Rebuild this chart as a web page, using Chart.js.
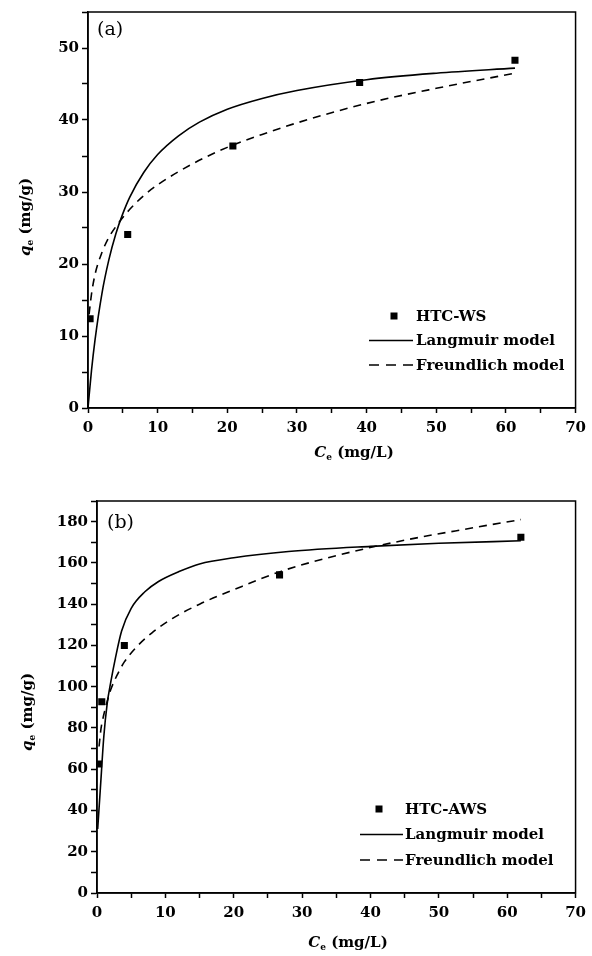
<!DOCTYPE html>
<html>
<head>
<meta charset="utf-8">
<script src="https://cdn.jsdelivr.net/npm/chart.js@4.4.1/dist/chart.umd.min.js"></script>
<style>
  body { margin: 0; background: #fff; }
  .panel { position: absolute; left: 0; width: 592px; height: 478px; }
</style>
</head>
<body>
<div class="panel" style="top:0"><canvas id="chartA" width="592" height="478"></canvas></div>
<div class="panel" style="top:478px"><canvas id="chartB" width="592" height="478"></canvas></div>
<script>
// (a) HTC-WS: measured points and the two fitted curves
const wsCe = [0.3, 5.7, 20.8, 39.0, 61.3];
const wsQe = [12.4, 24.1, 36.4, 45.2, 48.3];
const wsLangC = [0, 0.5, 1, 2, 3, 4, 5, 6, 8, 10, 13, 16, 20, 25, 30, 40, 50, 61.3];
const wsLangQ = [0, 5.2, 9.4, 15.9, 20.6, 24.2, 27.0, 29.3, 32.7, 35.2, 37.8, 39.7, 41.5, 43.0, 44.1, 45.6, 46.5, 47.2];
const wsFreuC = [0.15, 0.3, 0.5, 1, 2, 3, 4, 6, 8, 10, 15, 20, 25, 30, 40, 50, 61.3];
const wsFreuQ = [13.0, 14.2, 15.8, 18.5, 21.6, 23.7, 25.2, 27.6, 29.5, 31.0, 33.9, 36.2, 38.0, 39.6, 42.3, 44.4, 46.5];

// (b) HTC-AWS
const awsCe = [0.25, 0.7, 4.0, 26.7, 62.0];
const awsQe = [62.5, 92.7, 120.0, 154.2, 172.4];
const awsLangC = [0.1, 0.5, 1, 1.5, 2, 2.7, 3.6, 5, 7, 9, 12, 15, 20, 28, 40, 50, 62];
const awsLangQ = [31, 51, 76, 92, 102, 114, 127, 138, 146, 151, 155.8, 159.5, 162.5, 165.5, 168, 169.5, 170.7];
const awsFreuC = [0.3, 0.6, 1, 1.5, 2, 3, 4, 6, 8, 11, 15, 20, 27, 35, 45, 55, 62];
const awsFreuQ = [71, 80, 86.5, 93, 98.5, 106, 112, 120, 126, 133, 140, 147, 156, 163.5, 171, 177, 181];

const xTicks = [0, 10, 20, 30, 40, 50, 60, 70];
const legendNames = ['Langmuir model', 'Freundlich model'];

const FONT = "'DejaVu Serif', 'Liberation Serif', serif";

function pairs(xs, ys) {
  return xs.map((x, i) => ({ x: x, y: ys[i] }));
}

function fontFor(p, size) {
  return (p.italic ? 'italic ' : '') + 'bold ' + (p.sub ? Math.round(size * 0.62) : size) + 'px ' + FONT;
}

// draws mixed-style text centred on the current origin
function drawRich(ctx, parts, size) {
  let total = 0;
  parts.forEach(p => {
    ctx.font = fontFor(p, size);
    p.w = ctx.measureText(p.t).width;
    total += p.w;
  });
  let x = -total / 2;
  parts.forEach(p => {
    ctx.font = fontFor(p, size);
    ctx.fillText(p.t, x, p.sub ? size * 0.3 : 0);
    x += p.w;
  });
}

const xTitle = [{ t: 'C', italic: true }, { t: 'e', sub: true }, { t: ' (mg/L)' }];
const yTitle = [{ t: 'q', italic: true }, { t: 'e', sub: true }, { t: ' (mg/g)' }];

// frame, panel letter, axis titles and the legend inside the plot
const decorPlugin = {
  id: 'decor',
  afterDraw(chart, args, opts) {
    const ctx = chart.ctx;
    const a = chart.chartArea;
    ctx.save();
    ctx.strokeStyle = '#000';
    ctx.fillStyle = '#000';
    ctx.lineWidth = 1.5;
    ctx.strokeRect(a.left, a.top, a.right - a.left, a.bottom - a.top);

    ctx.textBaseline = 'middle';
    ctx.textAlign = 'left';
    ctx.font = '19px ' + FONT;
    ctx.fillText(opts.panel, opts.panelX, opts.panelY);

    ctx.save();
    ctx.translate(opts.xTitleX, opts.xTitleY);
    drawRich(ctx, xTitle, 15);
    ctx.restore();

    ctx.save();
    ctx.translate(opts.yTitleX, opts.yTitleY);
    ctx.rotate(-Math.PI / 2);
    drawRich(ctx, yTitle, 15);
    ctx.restore();

    chart.data.datasets.forEach((ds, i) => {
      const y = opts.legY + i * opts.legGap;
      if (!ds.showLine) {
        ctx.fillRect(opts.markX - 3.5, y - 3.5, 7, 7);
      } else {
        ctx.lineWidth = ds.borderWidth;
        ctx.setLineDash(ds.borderDash ? [10, 7] : []);
        ctx.beginPath();
        ctx.moveTo(opts.lineX0, y);
        ctx.lineTo(opts.lineX1, y);
        ctx.stroke();
        ctx.setLineDash([]);
      }
      ctx.font = 'bold 15px ' + FONT;
      ctx.fillText(ds.label, opts.textX, y + 1);
    });
    ctx.restore();
  }
};

function makeChart(id, sample, ptsC, ptsQ, langC, langQ, freuC, freuQ, yMax, yStep, yEvery, geom) {
  const tickFont = { family: FONT, weight: 'bold', size: 15 };
  return new Chart(document.getElementById(id), {
    type: 'scatter',
    data: {
      datasets: [{
        label: sample,
        data: pairs(ptsC, ptsQ),
        showLine: false,
        pointStyle: 'rect',
        pointRadius: 5,
        backgroundColor: '#000',
        borderWidth: 0
      }, {
        label: legendNames[0],
        data: pairs(langC, langQ),
        showLine: true,
        pointRadius: 0,
        borderColor: '#000',
        borderWidth: 1.6,
        cubicInterpolationMode: 'monotone',
        fill: false
      }, {
        label: legendNames[1],
        data: pairs(freuC, freuQ),
        showLine: true,
        pointRadius: 0,
        borderColor: '#000',
        borderWidth: 1.6,
        borderDash: [8, 6],
        cubicInterpolationMode: 'monotone',
        fill: false
      }]
    },
    options: {
      responsive: false,
      animation: false,
      layout: { padding: { top: geom.top, right: 16, left: 0, bottom: 0 } },
      scales: {
        x: {
          type: 'linear',
          min: xTicks[0],
          max: xTicks[xTicks.length - 1],
          ticks: {
            stepSize: 5,
            autoSkip: false,
            maxRotation: 0,
            color: '#000',
            font: tickFont,
            padding: 6,
            callback: v => xTicks.includes(v) ? v : ''
          },
          grid: { drawOnChartArea: false, tickLength: 5, tickColor: '#000', tickWidth: 1.5 },
          border: { color: '#000', width: 1.5 },
          afterFit: s => { s.height = geom.xh; }
        },
        y: {
          type: 'linear',
          min: 0,
          max: yMax,
          ticks: {
            stepSize: yStep,
            autoSkip: false,
            color: '#000',
            font: tickFont,
            padding: 3,
            callback: v => v % yEvery === 0 ? v : ''
          },
          grid: { drawOnChartArea: false, tickLength: 6, tickColor: '#000', tickWidth: 1.5 },
          border: { color: '#000', width: 1.5 },
          afterFit: s => { s.width = geom.yw; }
        }
      },
      plugins: {
        legend: { display: false },
        tooltip: { enabled: false },
        decor: geom.decor
      }
    },
    plugins: [decorPlugin]
  });
}

makeChart('chartA', 'HTC-WS', wsCe, wsQe, wsLangC, wsLangQ, wsFreuC, wsFreuQ, 55, 5, 10, {
  top: 10, xh: 70, yw: 88,
  decor: {
    panel: '(a)', panelX: 97, panelY: 30,
    xTitleX: 354, xTitleY: 453,
    yTitleX: 26, yTitleY: 217,
    legY: 316, legGap: 24.5, markX: 394, lineX0: 369, lineX1: 413, textX: 416
  }
});

makeChart('chartB', 'HTC-AWS', awsCe, awsQe, awsLangC, awsLangQ, awsFreuC, awsFreuQ, 190, 10, 20, {
  top: 23, xh: 63, yw: 97,
  decor: {
    panel: '(b)', panelX: 107, panelY: 45,
    xTitleX: 348, xTitleY: 465,
    yTitleX: 28, yTitleY: 234,
    legY: 331, legGap: 25.5, markX: 379, lineX0: 360, lineX1: 403, textX: 405
  }
});
</script>
</body>
</html>
